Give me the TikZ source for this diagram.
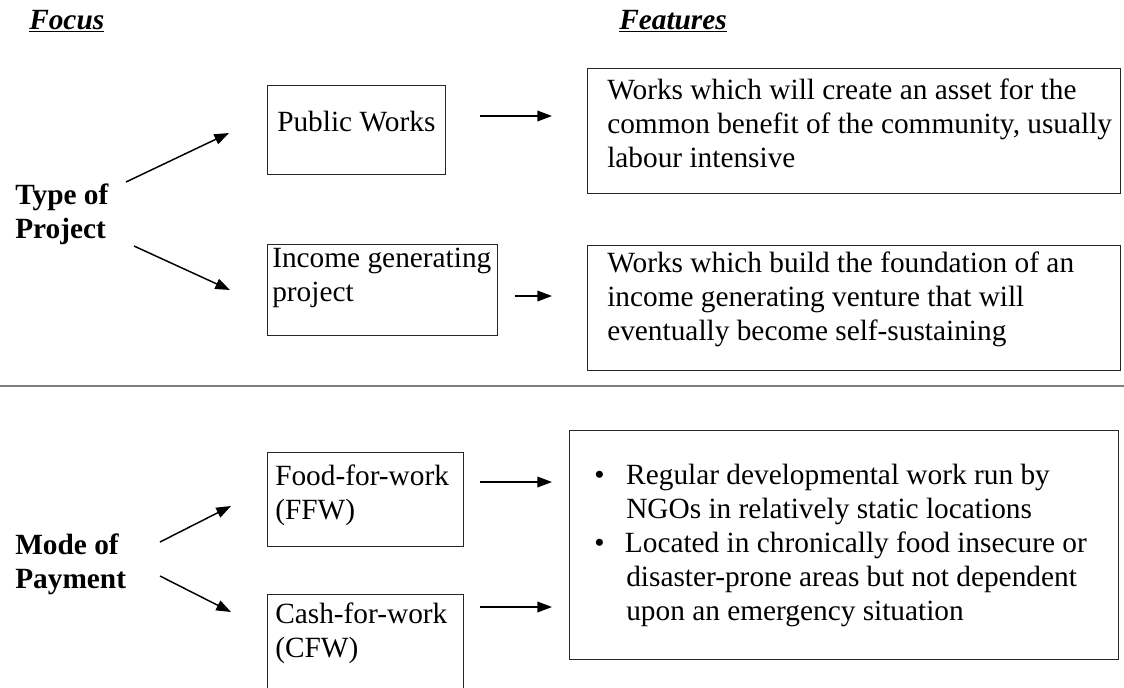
\documentclass[tikz,border=0pt]{standalone}
\usepackage{fontspec}
\setmainfont{Liberation Serif}
\usetikzlibrary{arrows.meta}
\tikzset{
  boxframe/.style={draw=black!85, line width=1pt, inner sep=0pt, anchor=north west},
  txt/.style={inner sep=0pt, align=left, anchor=north west, font=\fontsize{22}{25.5}\selectfont},
  txtline/.style={inner sep=0pt, anchor=base west, font=\fontsize{22}{25.5}\selectfont},
  lbl/.style={inner sep=0pt, align=left, anchor=north west, font=\fontsize{22}{25.5}\selectfont\bfseries},
  hdr/.style={inner sep=0pt, anchor=base west, font=\fontsize{22}{25.5}\selectfont\bfseries\itshape},
  arr/.style={line width=1.1pt, -{Triangle[length=11pt,width=8pt]}},
  sep/.style={draw=black!50, line width=1.6pt}
}
\begin{document}
\begin{tikzpicture}[x=0.75pt, y=-0.75pt]
\useasboundingbox (0,0) rectangle (1124,687);
\clip (0,0) rectangle (1124,687);
\fill[white] (0,0) rectangle (1124,687);

% headers
\node[hdr] (hfocus) at (29,29) {\underline{Focus}};
\node[hdr] (hfeat) at (619,29) {\underline{Features}};

% separator
\coordinate (sepL) at (0,386);
\coordinate (sepR) at (1124,386);
\draw[sep] (sepL) -- (sepR);

% ---------- Type of project ----------
\node[lbl] (ltype) at (15,180) {\strut Type of\\Project};

\node[boxframe, minimum width=133.5pt, minimum height=66.75pt] (bpw) at (267,85) {};
\node[txtline] (tpw) at (277,131) {Public Works};

\node[boxframe, minimum width=172.5pt, minimum height=68.25pt] (binc) at (267,244) {};
\node[txt] (tinc) at (272,243) {\strut Income generating\\project};

\node[boxframe, minimum width=399.75pt, minimum height=93.75pt] (bf1) at (587,68) {};
\node[txt] (tf1) at (607,75) {\strut Works which will create an asset for the\\common benefit of the community, usually\\labour intensive};

\node[boxframe, minimum width=399.75pt, minimum height=93.75pt] (bf2) at (587,245) {};
\node[txt] (tf2) at (607,248) {\strut Works which build the foundation of an\\income generating venture that will\\eventually become self-sustaining};

\coordinate (a1s) at (126,182); \coordinate (a1e) at (229,133);
\coordinate (a2s) at (134,246); \coordinate (a2e) at (230,290);
\coordinate (a3s) at (480,116); \coordinate (a3e) at (552,116);
\coordinate (a4s) at (515,296); \coordinate (a4e) at (552,296);
\draw[arr] (a1s) -- (a1e);
\draw[arr] (a2s) -- (a2e);
\draw[arr] (a3s) -- (a3e);
\draw[arr] (a4s) -- (a4e);

% ---------- Mode of payment ----------
\node[lbl] (lmode) at (15,530) {\strut Mode of\\Payment};

\node[boxframe, minimum width=147pt, minimum height=70.5pt] (bffw) at (267,452) {};
\node[txt] (tffw) at (275,461) {\strut Food-for-work\\(FFW)};

\node[boxframe, minimum width=147pt, minimum height=90pt] (bcfw) at (267,594) {};
\node[txt] (tcfw) at (275,599) {\strut Cash-for-work\\(CFW)};

\node[boxframe, minimum width=411.75pt, minimum height=171.75pt] (bf3) at (569,430) {};
\node[txt] (tf3) at (594,460) {\strut\makebox[24pt][l]{\textbullet}Regular developmental work run by\\
\hspace*{24pt}NGOs in relatively static locations\\
\makebox[23pt][l]{\textbullet}Located in chronically food insecure or\\
\hspace*{24pt}disaster-prone areas but not dependent\\
\hspace*{24pt}upon an emergency situation};

\coordinate (a5s) at (160,542); \coordinate (a5e) at (231,506);
\coordinate (a6s) at (160,576); \coordinate (a6e) at (231,612);
\coordinate (a7s) at (480,482); \coordinate (a7e) at (552,482);
\coordinate (a8s) at (480,607); \coordinate (a8e) at (552,607);
\draw[arr] (a5s) -- (a5e);
\draw[arr] (a6s) -- (a6e);
\draw[arr] (a7s) -- (a7e);
\draw[arr] (a8s) -- (a8e);
\end{tikzpicture}
\end{document}
